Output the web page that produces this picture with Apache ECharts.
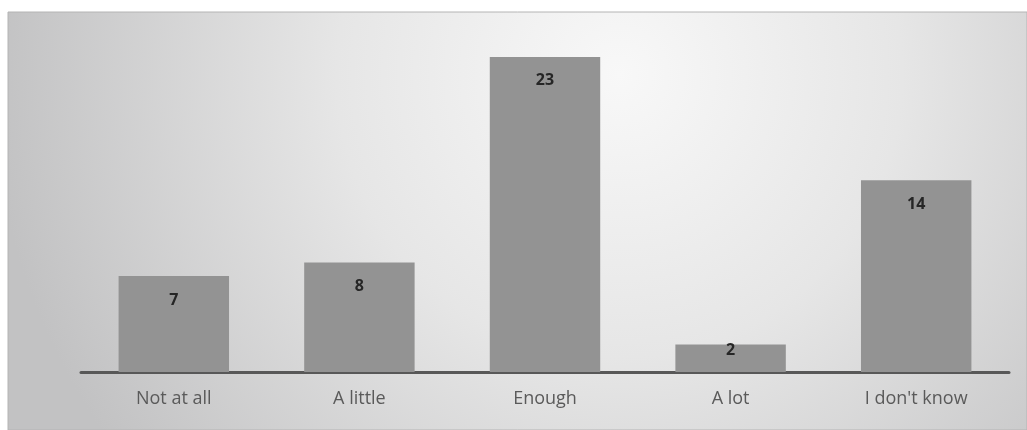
<!DOCTYPE html>
<html>
<head>
<meta charset="utf-8">
<style>
  html, body { margin: 0; padding: 0; background: #ffffff; }
  #chart { width: 1027px; height: 430px; }
</style>
<script src="https://cdn.jsdelivr.net/npm/echarts@6/dist/echarts.min.js"></script>
</head>
<body>
<div id="chart"></div>
<script>
// Answer categories and response counts
const categories = ['Not at all', 'A little', 'Enough', 'A lot', "I don't know"];
const counts = [7, 8, 23, 2, 14];

const chart = echarts.init(document.getElementById('chart'));

// Short bars get their label lifted to the bar top instead of sitting inside
const barData = counts.map(function (v) {
  if (v < 3) {
    return { value: v, label: { position: 'insideTop', distance: -2 } };
  }
  return v;
});

chart.setOption({
  animation: false,
  graphic: [
    {
      type: 'rect',
      z: -10,
      silent: true,
      shape: { x: 8, y: 12, width: 1019, height: 418 },
      style: {
        fill: {
          type: 'radial',
          x: 0.6, y: 0.15, r: 1.5,
          colorStops: [
            { offset: 0, color: '#f8f8f8' },
            { offset: 0.45, color: '#e6e6e6' },
            { offset: 1, color: '#c2c2c3' }
          ]
        },
        stroke: '#b4b4b4',
        lineWidth: 1
      }
    }
  ],
  grid: { left: 81, right: 18, top: 29.5, bottom: 58 },
  xAxis: {
    type: 'category',
    data: categories,
    axisLine: { show: true, lineStyle: { color: '#585858', width: 3 } },
    axisTick: { show: false },
    axisLabel: {
      color: '#5a5a5a',
      fontSize: 18,
      fontFamily: 'Open Sans',
      margin: 18
    }
  },
  yAxis: {
    type: 'value',
    min: 0,
    max: 25,
    show: false,
    splitLine: { show: false }
  },
  series: [
    {
      type: 'bar',
      data: barData,
      barWidth: '59.5%',
      itemStyle: { color: '#939393' },
      label: {
        show: true,
        position: 'insideTop',
        distance: 16,
        color: '#262626',
        fontSize: 16,
        fontWeight: 'bold',
        fontFamily: 'Open Sans'
      }
    }
  ]
});
</script>
</body>
</html>
